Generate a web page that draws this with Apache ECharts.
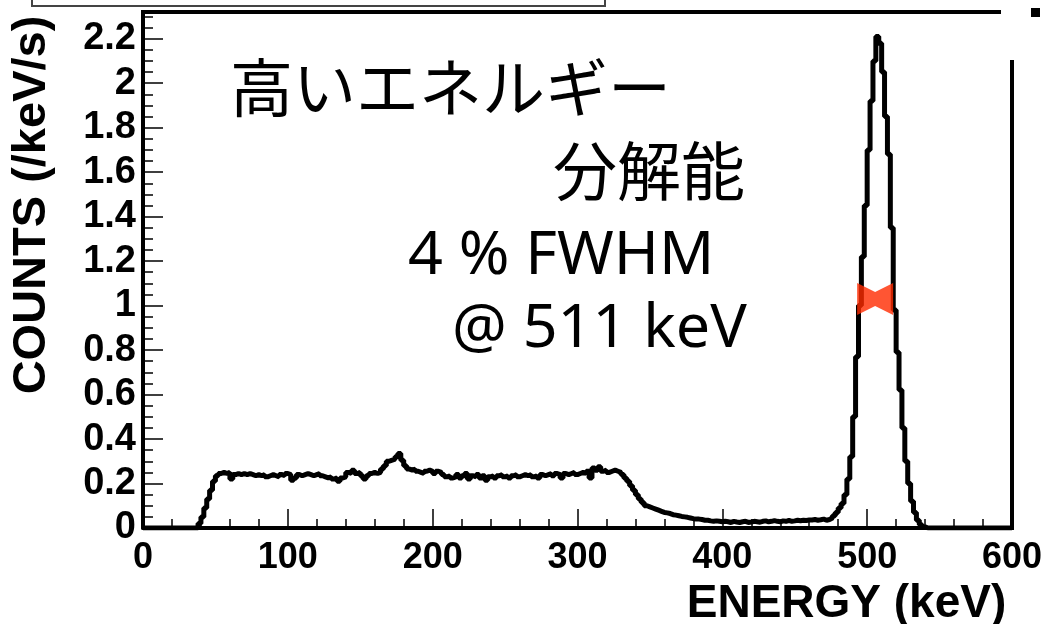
<!DOCTYPE html>
<html>
<head>
<meta charset="utf-8">
<script src="https://cdn.jsdelivr.net/npm/echarts@6/dist/echarts.min.js"></script>
<style>
html,body{margin:0;padding:0;background:#fff;}
#chart{width:1042px;height:624px;}
</style>
</head>
<body>
<div id="chart"></div>
<script>
// ---- data ----
const binStart = 0;      // keV
const binWidth = 2;      // keV
const xEnd = 600;        // keV
// counts per bin (/keV/s), 10 bins (20 keV) per row
const counts = [
  0,0,0,0,0,0,0,0,0,0,                                   // 0
  0,0,0,0,0,0,0,0,0,0.02,                                // 20
  0.05,0.09,0.13,0.17,0.21,0.235,0.245,0.25,0.245,0.25,  // 40
  0.22,0.24,0.245,0.24,0.245,0.24,0.245,0.24,0.235,0.24, // 60
  0.235,0.24,0.23,0.235,0.24,0.235,0.23,0.24,0.235,0.245,// 80
  0.24,0.215,0.225,0.24,0.235,0.24,0.245,0.24,0.235,0.24,// 100
  0.245,0.235,0.23,0.225,0.23,0.22,0.225,0.21,0.225,0.23,// 120
  0.25,0.245,0.26,0.245,0.25,0.235,0.22,0.235,0.245,0.25,// 140
  0.245,0.25,0.265,0.28,0.3,0.305,0.31,0.32,0.335,0.305, // 160
  0.28,0.265,0.26,0.265,0.255,0.25,0.245,0.255,0.26,0.255,// 180
  0.245,0.255,0.25,0.24,0.23,0.235,0.225,0.23,0.24,0.225,// 200
  0.235,0.245,0.22,0.235,0.23,0.24,0.225,0.235,0.215,0.23,// 220
  0.235,0.225,0.235,0.24,0.23,0.235,0.225,0.235,0.24,0.23,// 240
  0.235,0.24,0.235,0.24,0.23,0.235,0.225,0.24,0.235,0.24,// 260
  0.245,0.235,0.245,0.24,0.225,0.245,0.24,0.245,0.25,0.24,// 280
  0.245,0.25,0.245,0.255,0.225,0.27,0.26,0.275,0.255,0.26,// 300
  0.25,0.255,0.26,0.255,0.25,0.24,0.225,0.21,0.19,0.17,  // 320
  0.15,0.13,0.115,0.1,0.095,0.09,0.085,0.08,0.075,0.07,  // 340
  0.068,0.065,0.06,0.058,0.055,0.052,0.05,0.048,0.045,0.042, // 360
  0.04,0.04,0.038,0.035,0.035,0.032,0.03,0.032,0.03,0.028,   // 380
  0.03,0.028,0.025,0.03,0.027,0.025,0.028,0.03,0.025,0.027,  // 400
  0.03,0.028,0.026,0.03,0.032,0.028,0.03,0.033,0.03,0.028,   // 420
  0.032,0.03,0.034,0.03,0.032,0.035,0.033,0.035,0.034,0.036, // 440
  0.036,0.038,0.035,0.037,0.04,0.035,0.038,0.045,0.055,0.07, // 460
  0.09,0.11,0.15,0.22,0.32,0.5,0.77,1.0,1.22,1.45,       // 480
  1.7,1.92,2.1,2.21,2.18,2.05,1.85,1.68,1.35,0.98,       // 500
  0.79,0.62,0.45,0.3,0.2,0.12,0.07,0.035,0.015,0.005,    // 520
  0,0,0,0,0,0,0,0,0,0,                                   // 540
  0,0,0,0,0,0,0,0,0,0,                                   // 560
  0,0,0,0,0,0,0,0,0,0                                    // 580
];
// FWHM marker position (keV, counts)
const fwhmMarker = [[505.5, 1.03]];
// axis settings
const xMin = 0, xMax = 600, xInterval = 100;
const yMin = 0, yMax = 2.32, yInterval = 0.2, yMinorInterval = 0.05;
const xTitle = 'ENERGY (keV)';
const yTitle = 'COUNTS (/keV/s)';
const annotations = ['高いエネルギー', '分解能', '4 % FWHM', '@ 511 keV'];

// ---- build ----
const histData = counts.map((c, i) => [binStart + i * binWidth, c]);
histData.push([xEnd, counts[counts.length - 1]]);

const labelFont = {fontFamily: '"Liberation Sans", Arial, sans-serif', fontWeight: 'bold', color: '#000'};

const chart = echarts.init(document.getElementById('chart'), null, {renderer: 'canvas'});
chart.setOption({
  animation: false,
  backgroundColor: '#fff',
  grid: {left: 143, right: 30, top: 12, bottom: 96, containLabel: false, outerBoundsMode: 'none'},
  xAxis: {
    type: 'value', min: xMin, max: xMax, interval: xInterval,
    name: xTitle, nameLocation: 'middle', nameGap: 45,
    nameTextStyle: Object.assign({fontSize: 46, padding: [0, 0, 0, 538]}, labelFont),
    axisLine: {show: true, lineStyle: {color: '#000', width: 4}},
    axisTick: {show: true, inside: true, length: 19, lineStyle: {color: '#000', width: 1.5}},
    minorTick: {show: true, splitNumber: 5, length: 9, lineStyle: {color: '#000', width: 1.5}},
    axisLabel: Object.assign({fontSize: 36, margin: 12}, labelFont),
    splitLine: {show: false}
  },
  yAxis: [{
    type: 'value', min: yMin, max: yMax, interval: yInterval,
    name: yTitle, nameLocation: 'middle', nameGap: 87, nameRotate: 90,
    nameTextStyle: Object.assign({fontSize: 47, padding: [0, 0, 0, 130]}, labelFont),
    axisLine: {show: true, lineStyle: {color: '#000', width: 4}},
    axisTick: {show: true, inside: true, length: 20, lineStyle: {color: '#000', width: 1.5}},
    axisLabel: Object.assign({fontSize: 38, margin: 7, showMaxLabel: false,
      formatter: v => (Math.abs(v / yInterval - Math.round(v / yInterval)) < 1e-6 ? String(+v.toFixed(1)) : '')}, labelFont),
    splitLine: {show: false}
  }, {
    type: 'value', min: yMin, max: yMax, interval: yMinorInterval, position: 'left',
    axisLine: {show: false},
    axisTick: {show: true, inside: true, length: 10, lineStyle: {color: '#000', width: 1.5}},
    axisLabel: {show: false},
    splitLine: {show: false}
  }],
  series: [{
    type: 'line', name: 'spectrum', data: histData, step: 'end',
    showSymbol: false, symbol: 'none',
    lineStyle: {color: '#000', width: 5},
    z: 3
  }, {
    type: 'scatter', name: 'FWHM', data: fwhmMarker,
    symbol: 'path://M0 0L18 9L36 0L36 32L18 23L0 32Z', symbolSize: [36, 32],
    itemStyle: {color: '#ff2a00'},
    z: 4
  }],
  graphic: [
    {type: 'line', shape: {x1: 141, y1: 12, x2: 1001, y2: 12}, style: {stroke: '#000', lineWidth: 4}, z: 10},
    {type: 'line', shape: {x1: 1012, y1: 60, x2: 1012, y2: 530}, style: {stroke: '#000', lineWidth: 4}, z: 10},
    {type: 'rect', shape: {x: 32, y: -10, width: 573, height: 16}, style: {fill: 'none', stroke: '#444', lineWidth: 2}, z: 10},
    {type: 'rect', shape: {x: 1031, y: 8, width: 9, height: 9}, style: {fill: '#000'}, z: 10},
    {type: 'text', left: 230, top: 56, style: {text: annotations[0], font: '63px "Noto Sans CJK JP"', fill: '#000'}, z: 10},
    {type: 'text', left: 553, top: 139, style: {text: annotations[1], font: '64px "Noto Sans CJK JP"', fill: '#000'}, z: 10},
    {type: 'text', left: 408, top: 226, style: {text: annotations[2], font: '61px "Noto Sans", "Open Sans", sans-serif', fill: '#000'}, z: 10},
    {type: 'text', left: 452, top: 299, style: {text: annotations[3], font: '61px "Noto Sans", "Open Sans", sans-serif', fill: '#000'}, z: 10}
  ]
});
</script>
</body>
</html>
